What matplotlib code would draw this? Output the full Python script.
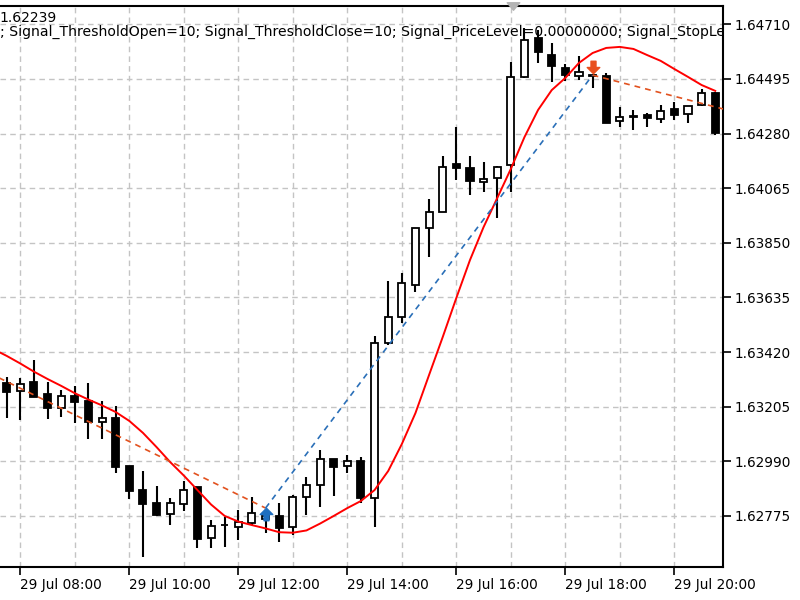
import numpy as np
import pandas as pd
import matplotlib
matplotlib.use("Agg")
import matplotlib.pyplot as plt
from matplotlib.path import Path
import matplotlib.transforms as mtransforms

plt.rcParams['font.family'] = ['DejaVu Sans']

# ---- data: 15-minute bars on 29 Jul, 07:45 .. 20:45 ----
bar_times = pd.date_range("2000-07-29 07:45", periods=53, freq="15min")

opens = [1.63297, 1.63268, 1.63301, 1.63255, 1.63201, 1.63248, 1.63229, 1.63146, 1.63162, 1.62971,
         1.62877, 1.62825, 1.62782, 1.62822, 1.62888, 1.62687, 1.62739, 1.62730, 1.62749, 1.62763,
         1.62775, 1.62730, 1.62848, 1.62897, 1.62998, 1.62972, 1.62993, 1.62845, 1.63455, 1.63557,
         1.63684, 1.63907, 1.63972, 1.64159, 1.64143, 1.64088, 1.64106, 1.64156, 1.64502, 1.64656,
         1.64589, 1.64537, 1.64505, 1.64511, 1.64507, 1.64331, 1.64349, 1.64353, 1.64336, 1.64375,
         1.64357, 1.64392, 1.64441]
highs = [1.63323, 1.63318, 1.63389, 1.63303, 1.63271, 1.63288, 1.63297, 1.63229, 1.63208, 1.62973,
         1.62952, 1.62893, 1.62845, 1.62913, 1.62890, 1.62759, 1.62772, 1.62798, 1.62849, 1.62791,
         1.62825, 1.62857, 1.62929, 1.63035, 1.62999, 1.63015, 1.63008, 1.63483, 1.63701, 1.63732,
         1.63910, 1.64021, 1.64192, 1.64307, 1.64192, 1.64169, 1.64152, 1.64563, 1.64694, 1.64688,
         1.64635, 1.64554, 1.64587, 1.64514, 1.64520, 1.64386, 1.64373, 1.64360, 1.64392, 1.64405,
         1.64390, 1.64454, 1.64445]
lows = [1.63161, 1.63153, 1.63242, 1.63157, 1.63163, 1.63140, 1.63077, 1.63077, 1.62943, 1.62841,
        1.62615, 1.62775, 1.62739, 1.62795, 1.62648, 1.62648, 1.62654, 1.62680, 1.62739, 1.62708,
        1.62674, 1.62700, 1.62779, 1.62811, 1.62854, 1.62943, 1.62825, 1.62733, 1.63448, 1.63533,
        1.63658, 1.63793, 1.63970, 1.64097, 1.64038, 1.64051, 1.63946, 1.64051, 1.64500, 1.64557,
        1.64484, 1.64487, 1.64491, 1.64458, 1.64320, 1.64307, 1.64294, 1.64307, 1.64323, 1.64333,
        1.64320, 1.64388, 1.64274]
closes = [1.63264, 1.63294, 1.63244, 1.63199, 1.63247, 1.63225, 1.63146, 1.63162, 1.62969, 1.62874,
          1.62822, 1.62779, 1.62825, 1.62877, 1.62684, 1.62737, 1.62740, 1.62750, 1.62785, 1.62775,
          1.62726, 1.62849, 1.62897, 1.62998, 1.62969, 1.62993, 1.62845, 1.63455, 1.63557, 1.63691,
          1.63907, 1.63972, 1.64150, 1.64143, 1.64094, 1.64101, 1.64150, 1.64504, 1.64648, 1.64601,
          1.64546, 1.64512, 1.64523, 1.64508, 1.64323, 1.64344, 1.64347, 1.64340, 1.64370, 1.64353,
          1.64388, 1.64438, 1.64281]

# smooth moving average (red), starting one bar before the first visible bar
ma_values = [1.63432, 1.63405, 1.63375, 1.63343, 1.63314, 1.63287, 1.63258, 1.63233, 1.63210, 1.63184,
             1.63149, 1.63102, 1.63046, 1.62987, 1.62934, 1.62877, 1.62820, 1.62775, 1.62753, 1.62739,
             1.62726, 1.62711, 1.62709, 1.62718, 1.62745, 1.62775, 1.62806, 1.62834, 1.62877, 1.62952,
             1.63058, 1.63180, 1.63330, 1.63479, 1.63633, 1.63782, 1.63912, 1.64026, 1.64141, 1.64266,
             1.64373, 1.64451, 1.64499, 1.64558, 1.64597, 1.64617, 1.64621, 1.64613, 1.64589, 1.64566,
             1.64534, 1.64503, 1.64471, 1.64448]

# signal lines (bar index, price)
sell_line1_idx = [-1, 19]
sell_line1_px = [1.63330, 1.62806]
buy_line_idx = [19, 43]
buy_line_px = [1.62806, 1.64510]
sell_line2_idx = [43, 53]
sell_line2_px = [1.64510, 1.64371]

buy_arrow_idx, buy_arrow_px = 19, 1.62783
sell_arrow_idx, sell_arrow_px = 43, 1.64540

y_ticks = [1.62775, 1.62990, 1.63205, 1.63420, 1.63635, 1.63850, 1.64065, 1.64280, 1.64495, 1.64710]
x_tick_labels = ["29 Jul 08:00", "29 Jul 10:00", "29 Jul 12:00", "29 Jul 14:00",
                 "29 Jul 16:00", "29 Jul 18:00", "29 Jul 20:00"]

header_price = "1.62239"
header_params = ("; Signal_ThresholdOpen=10; Signal_ThresholdClose=10; "
                 "Signal_PriceLevel=0.00000000; Signal_StopLe")

# ---- figure ----
W, H = 800, 600
fig = plt.figure(figsize=(8, 6), dpi=100)
ax = fig.add_axes([0.0, 33 / H, 723 / W, 561 / H])

idx = np.arange(len(opens))
o = np.array(opens); h = np.array(highs); l = np.array(lows); c = np.array(closes)
bull = c >= o

ax.vlines(idx, l, h, color='black', linewidth=1.5, zorder=3)
ax.bar(idx, np.abs(c - o), bottom=np.minimum(o, c), width=0.52,
       color=np.where(bull, 'white', 'black'), edgecolor='black', linewidth=1.3, zorder=4)

ma_idx = np.arange(-1, len(ma_values) - 1)
ax.plot(ma_idx, ma_values, color='#ff0000', linewidth=1.4, zorder=5)

dash = (0, (3.5, 3))
ax.plot(sell_line1_idx, sell_line1_px, color='#e2521f', linewidth=1.2, linestyle=dash, zorder=5)
ax.plot(buy_line_idx, buy_line_px, color='#2a6fb8', linewidth=1.2, linestyle=dash, zorder=5)
ax.plot(sell_line2_idx, sell_line2_px, color='#e2521f', linewidth=1.2, linestyle=dash, zorder=5)

# thick arrow markers
up_arrow = Path([(-0.2, -0.5), (0.2, -0.5), (0.2, 0.0), (0.5, 0.0), (0.0, 0.5),
                 (-0.5, 0.0), (-0.2, 0.0), (-0.2, -0.5)],
                [Path.MOVETO] + [Path.LINETO] * 6 + [Path.CLOSEPOLY])
down_arrow = Path([(x, -y) for x, y in up_arrow.vertices], up_arrow.codes)
ax.plot([buy_arrow_idx], [buy_arrow_px], marker=up_arrow, markersize=9,
        color='#1f6fc0', linestyle='none', zorder=6)
ax.plot([sell_arrow_idx], [sell_arrow_px], marker=down_arrow, markersize=9,
        color='#e8501e', linestyle='none', zorder=6)

# axes limits
ax.set_xlim(-0.49, 52.57)
ax.set_ylim(1.625741, 1.647820)

# x ticks
hour_pos = [i for i, t in enumerate(bar_times) if t.minute == 0]
major_pos = [i for i, t in enumerate(bar_times) if t.minute == 0 and t.hour % 2 == 0]
ax.set_xticks(major_pos)
ax.set_xticklabels(x_tick_labels[:len(major_pos)], ha='left', fontsize=9.8)
ax.set_xticks(hour_pos, minor=True)
ax.tick_params(axis='x', which='major', direction='out', length=6, width=1.2, pad=2)
ax.tick_params(axis='x', which='minor', length=0)

ax.yaxis.tick_right()
ax.set_yticks(y_ticks)
ax.set_yticklabels([f"{v:.5f}" for v in y_ticks], fontsize=9.8)
ax.tick_params(axis='y', direction='out', length=6, width=1.2, pad=2)

grid_kw = dict(color='#c4c4c4', linestyle=(0, (4, 3)), linewidth=1.0)
ax.grid(True, which='both', axis='x', **grid_kw)
ax.grid(True, which='major', axis='y', **grid_kw)
ax.set_axisbelow(True)

ax.spines['left'].set_visible(False)
for s in ('top', 'right', 'bottom'):
    ax.spines[s].set_linewidth(1.5)
    ax.spines[s].set_color('black')

# small shift marker on the top border
shift_tri = Path([(-0.5, 0.3), (0.5, 0.3), (0.0, -0.3), (-0.5, 0.3)],
                 [Path.MOVETO, Path.LINETO, Path.LINETO, Path.CLOSEPOLY])
trans = mtransforms.blended_transform_factory(ax.transData, ax.transAxes)
ax.plot([37.15], [1.0], marker=shift_tri, markersize=9, color='#b4b4b4',
        transform=trans, clip_on=False, zorder=7)

# header texts (clipped by plot area)
ax.text(-1 / W, 1 - 17.5 / H, header_price, transform=fig.transFigure,
        fontsize=10, va='center', ha='left', clip_on=True, zorder=8)
ax.text(0 / W, 1 - 31.5 / H, header_params, transform=fig.transFigure,
        fontsize=10.1, va='center', ha='left', clip_on=True, zorder=8)

fig.savefig("out.png", dpi=100)
